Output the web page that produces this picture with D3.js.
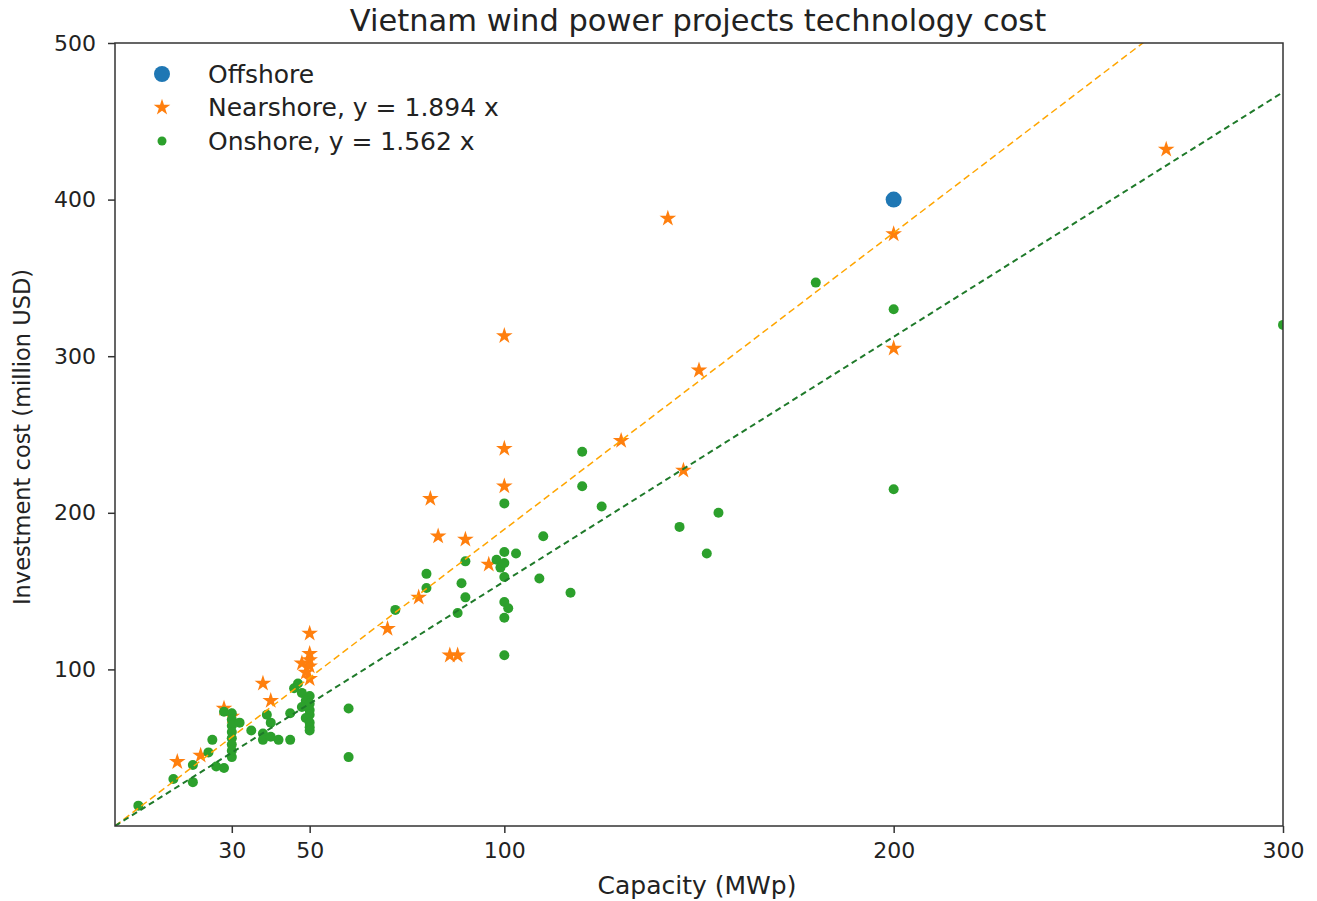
<!DOCTYPE html>
<html>
<head>
<meta charset="utf-8">
<script src="https://cdn.jsdelivr.net/npm/d3@7"></script>
<style>
  body { margin: 0; background: #fff; }
  text { font-family: "DejaVu Sans", sans-serif; fill: #222; }
</style>
</head>
<body>
<div id="chart"></div>
<script>
// capacity (MWp) / investment cost (million USD)
const offshoreCap = [200];
const offshoreCost = [400];

const nearshoreCap = [16, 22, 28, 30, 38, 40, 50, 50, 50, 50, 49, 48, 50, 70, 78, 81, 83, 90, 96, 86, 88,
  100, 100, 100, 130, 146, 150, 142, 200, 200, 270];
const nearshoreCost = [41, 45, 75, 70, 91, 80, 123, 110, 106, 102, 98, 104, 94, 126, 146, 209, 185, 183, 167, 109, 109,
  217, 241, 313, 246, 227, 291, 388, 378, 305, 432];

const onshoreCap = [6, 15, 20, 20, 24, 25, 26, 28, 30, 28, 30, 30, 30, 30, 30, 30, 30, 32, 35, 38, 38, 40, 42, 45,
  39, 40, 45, 47, 46, 48, 50, 49, 50, 48, 50, 50, 49, 50, 50, 50, 60, 60, 72, 80, 80, 88, 89, 90, 90, 98, 99,
  100, 103, 100, 100, 100, 101, 100, 100, 100, 109, 110, 117, 120, 120, 125, 145, 152, 155, 180, 200, 200, 300];
const onshoreCost = [13, 30, 39, 28, 47, 55, 38, 37, 44, 73, 72, 68, 64, 60, 56, 52, 48, 66, 61, 59, 55, 57, 55, 55,
  71, 66, 72, 91, 88, 85, 83, 80, 78, 76, 74, 71, 69, 66, 63, 61, 75, 44, 138, 161, 152, 136, 155, 146, 169, 170, 165,
  175, 174, 168, 159, 143, 139, 133, 109, 206, 158, 185, 149, 239, 217, 204, 191, 174, 200, 347, 330, 215, 320];

const xTicks = [30, 50, 100, 200, 300];
const yTicks = [100, 200, 300, 400, 500];
const slopes = { nearshore: 1.894, onshore: 1.562 };

const width = 1317, height = 901;
const margin = { top: 43, right: 34, bottom: 75, left: 115 };
const w = width - margin.left - margin.right;
const h = height - margin.top - margin.bottom;

const svg = d3.select("#chart").append("svg")
    .attr("width", width)
    .attr("height", height);

const x = d3.scaleLinear().domain([0, 300]).range([0, w]);
const y = d3.scaleLinear().domain([0, 500]).range([h, 0]);

const g = svg.append("g")
    .attr("transform", "translate(" + margin.left + "," + margin.top + ")");

g.append("clipPath").attr("id", "plot-clip")
  .append("rect").attr("width", w).attr("height", h);

const toPts = (cap, cost) => cap.map((c, i) => ({ cap: c, cost: cost[i] }));

const marks = g.append("g").attr("clip-path", "url(#plot-clip)");

// offshore
marks.selectAll(".off")
    .data(toPts(offshoreCap, offshoreCost)).enter()
    .append("circle")
    .attr("class", "off")
    .attr("cx", d => x(d.cap))
    .attr("cy", d => y(d.cost))
    .attr("r", 8)
    .style("fill", "#1f77b4");

// nearshore
const star = d3.symbol().type(d3.symbolStar).size(86);
marks.selectAll(".near")
    .data(toPts(nearshoreCap, nearshoreCost)).enter()
    .append("path")
    .attr("class", "near")
    .attr("d", star)
    .attr("transform", d => "translate(" + x(d.cap) + "," + y(d.cost) + ")")
    .style("fill", "#ff7f0e");

// onshore
marks.selectAll(".on")
    .data(toPts(onshoreCap, onshoreCost)).enter()
    .append("circle")
    .attr("class", "on")
    .attr("cx", d => x(d.cap))
    .attr("cy", d => y(d.cost))
    .attr("r", 5)
    .style("fill", "#2ca02c");

// fitted lines through origin
const fit = d3.line().x(d => x(d[0])).y(d => y(d[1]));
marks.append("path")
    .attr("d", fit([[0, 0], [300, 300 * slopes.nearshore]]))
    .style("fill", "none")
    .style("stroke", "#ffa500")
    .style("stroke-width", 1.5)
    .style("stroke-dasharray", "7,4");
marks.append("path")
    .attr("d", fit([[0, 0], [300, 300 * slopes.onshore]]))
    .style("fill", "none")
    .style("stroke", "#1f7a2a")
    .style("stroke-width", 2)
    .style("stroke-dasharray", "6,4");

// axes
const xAxis = g.append("g")
    .attr("transform", "translate(0," + h + ")")
    .call(d3.axisBottom(x).tickValues(xTicks).tickSize(7).tickPadding(9));
const yAxis = g.append("g")
    .call(d3.axisLeft(y).tickValues(yTicks).tickSize(7).tickPadding(12));

[xAxis, yAxis].forEach(a => {
  a.select(".domain").remove();
  a.selectAll("line").style("stroke", "#333").style("stroke-width", 1.5);
  a.selectAll("text").style("font-size", "22px").style("fill", "#222");
});

g.append("rect")
    .attr("width", w)
    .attr("height", h)
    .style("fill", "none")
    .style("stroke", "#333")
    .style("stroke-width", 1.5);

// labels
svg.append("text")
    .attr("x", 698).attr("y", 20)
    .attr("text-anchor", "middle")
    .attr("dominant-baseline", "central")
    .style("font-size", "30.5px")
    .text("Vietnam wind power projects technology cost");

svg.append("text")
    .attr("x", 697).attr("y", 885)
    .attr("text-anchor", "middle")
    .attr("dominant-baseline", "central")
    .style("font-size", "25px")
    .text("Capacity (MWp)");

svg.append("text")
    .attr("transform", "translate(22,437) rotate(-90)")
    .attr("text-anchor", "middle")
    .attr("dominant-baseline", "central")
    .style("font-size", "22.5px")
    .text("Investment cost (million USD)");

// legend
const legendItems = [
  { label: "Offshore", kind: "off" },
  { label: "Nearshore, y = " + slopes.nearshore + " x", kind: "near" },
  { label: "Onshore, y = " + slopes.onshore + " x", kind: "on" }
];
const legend = svg.append("g").attr("transform", "translate(162,74)");
const rows = legend.selectAll("g").data(legendItems).enter()
    .append("g")
    .attr("transform", (d, i) => "translate(0," + i * 33.5 + ")");
rows.each(function (d) {
  const r = d3.select(this);
  if (d.kind == "near") {
    r.append("path").attr("d", star).style("fill", "#ff7f0e");
  } else {
    r.append("circle")
      .attr("r", d.kind == "off" ? 8 : 4.5)
      .style("fill", d.kind == "off" ? "#1f77b4" : "#2ca02c");
  }
});
rows.append("text")
    .attr("x", 46)
    .attr("dominant-baseline", "central")
    .style("font-size", "25px")
    .text(d => d.label);
</script>
</body>
</html>
